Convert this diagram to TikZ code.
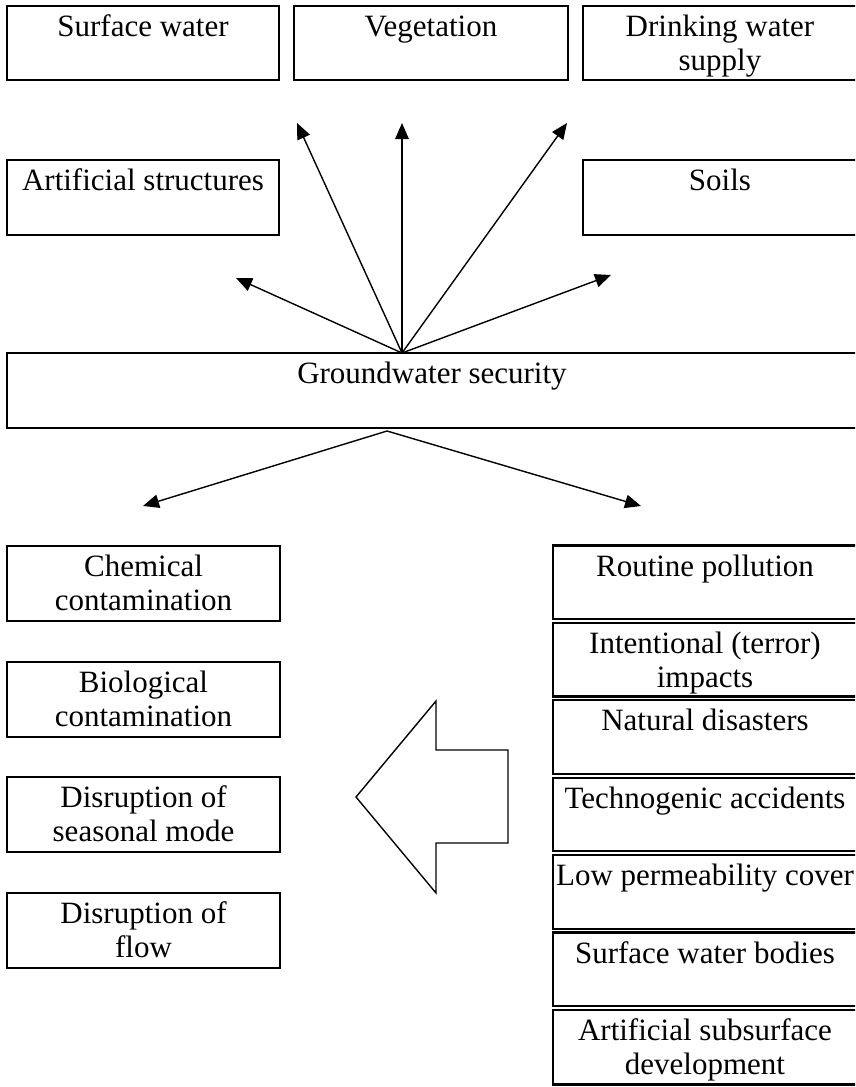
\documentclass[tikz,border=0pt]{standalone}
\usepackage{fontspec}
\setmainfont{Liberation Serif}
\usetikzlibrary{arrows.meta}

% top-aligned, centred label inside a box of given width and height
\newcommand{\boxlabel}[3]{\parbox[t][#2][t]{#1}{\centering\vspace*{6.7pt}\strut #3\par}}

\begin{document}
\begin{tikzpicture}[x=1pt, y=-1pt,
  box/.style={draw, line width=2.2pt, rectangle, inner sep=0pt, outer sep=0pt,
              anchor=north west, font=\fontsize{31}{34}\selectfont},
  link/.style={line width=1.4pt, -{Triangle[length=16pt,width=13.5pt]}},
  bigarrow/.style={line width=1.4pt, line join=miter}]

  \fill[white] (0,0) rectangle (855,1087);
  \clip (0,0) rectangle (855,1087);

  % receptors at the top
  \node[box] (surf)  at (7,6)   {\boxlabel{272pt}{74pt}{Surface water}};
  \node[box] (veg)   at (294,6) {\boxlabel{274pt}{74pt}{Vegetation}};
  \node[box] (drink) at (583,6) {\boxlabel{274pt}{74pt}{Drinking water\\supply}};
  \node[box] (art)   at (7,160)   {\boxlabel{272pt}{75pt}{Artificial structures}};
  \node[box] (soils) at (583,160) {\boxlabel{274pt}{75pt}{Soils}};

  % central box
  \node[box] (gw) at (7,353) {\boxlabel{850pt}{75pt}{Groundwater security}};

  % consequences (left column)
  \node[box] (chem) at (7,546) {\boxlabel{273pt}{75pt}{Chemical\\contamination}};
  \node[box] (bio)  at (7,662) {\boxlabel{273pt}{75pt}{Biological\\contamination}};
  \node[box] (seas) at (7,777) {\boxlabel{273pt}{75pt}{Disruption of\\seasonal mode}};
  \node[box] (flow) at (7,893) {\boxlabel{273pt}{75pt}{Disruption of\\flow}};

  % threats (right column)
  \node[box] (r1) at (553,545.5) {\boxlabel{304pt}{73.6pt}{Routine pollution}};
  \node[box] (r2) at (553,622.9) {\boxlabel{304pt}{73.6pt}{Intentional (terror)\\impacts}};
  \node[box] (r3) at (553,700.3) {\boxlabel{304pt}{73.6pt}{Natural disasters}};
  \node[box] (r4) at (553,777.7) {\boxlabel{304pt}{73.6pt}{Technogenic accidents}};
  \node[box] (r5) at (553,855.1) {\boxlabel{304pt}{73.6pt}{Low permeability cover}};
  \node[box] (r6) at (553,932.5) {\boxlabel{304pt}{73.6pt}{Surface water bodies}};
  \node[box] (r7) at (553,1009.9) {\boxlabel{304pt}{74.5pt}{Artificial subsurface\\development}};

  % arrow ends
  \coordinate (up1) at (297,123);
  \coordinate (up2) at (402,123);
  \coordinate (up3) at (567,123);
  \coordinate (side1) at (236,278);
  \coordinate (side2) at (611,275);
  \coordinate (down1) at (143,506);
  \coordinate (down2) at (641,506);
  \coordinate (top) at ([xshift=-30pt]gw.north);
  \coordinate (bottom) at ([xshift=-45pt,yshift=-3pt]gw.south);

  \draw[link] (top) -- (up1);
  \draw[link] (top) -- (up2);
  \draw[link] (top) -- (up3);
  \draw[link] (top) -- (side1);
  \draw[link] (top) -- (side2);
  \draw[link] (bottom) -- (down1);
  \draw[link] (bottom) -- (down2);

  % block arrow pointing from threats to consequences
  \draw[bigarrow] (508,750) -- (436,750) -- (436,701) -- (356,797)
    -- (436,893) -- (436,843) -- (508,843) -- cycle;
\end{tikzpicture}
\end{document}
